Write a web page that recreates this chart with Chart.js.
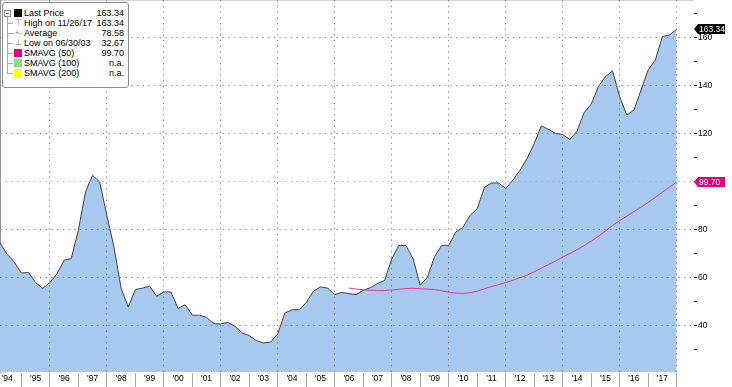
<!DOCTYPE html>
<html>
<head>
<meta charset="utf-8">
<script src="https://cdn.jsdelivr.net/npm/chart.js@4.4.1/dist/chart.umd.min.js"></script>
<style>
  body { margin: 0; background: #fff; }
  #wrap { position: relative; width: 732px; height: 387px; }
  #legend {
    position: absolute; left: 2px; top: 2px; width: 125px; height: 84px;
    border: 1px solid #8c8c8c; border-radius: 3px; background: #fff;
    font: 9px "Liberation Sans", Arial, sans-serif; color: #000;
  }
  .row { position: absolute; left: 0; width: 125px; height: 10px; line-height: 10px; }
  .name { position: absolute; left: 21px; top: 0; white-space: nowrap; }
  .val { position: absolute; right: 4px; top: 0; }
  .sq { position: absolute; left: 11px; top: 1px; width: 8px; height: 8px; }
  .sym { position: absolute; left: 12px; top: 0; color: #777; font-size: 8px; }
  .br { position: absolute; left: 4px; top: 5px; width: 6px; border-top: 1px solid #aaa; }
  #tree { position: absolute; left: 4px; top: 12px; height: 59px; border-left: 1px solid #aaa; }
  #minus { position: absolute; left: 1px; top: 7px; width: 5px; height: 5px; border: 1px solid #888; background: #fff; }
  #minus:after { content: ""; position: absolute; left: 1px; top: 2px; width: 3px; border-top: 1px solid #555; }
</style>
</head>
<body>
<div id="wrap">
  <canvas id="chart" width="732" height="387"></canvas>
  <div id="legend">
    <div id="tree"></div>
    <div class="row" style="top:5px"><div class="sq" style="background:#000"></div><span class="name">Last Price</span><span class="val">163.34</span></div>
    <div class="row" style="top:15px"><div class="br"></div><span class="sym">&#x22A4;</span><span class="name">High on 11/26/17</span><span class="val">163.34</span></div>
    <div class="row" style="top:25px"><div class="br"></div><span class="sym" style="left:9px">-+-</span><span class="name">Average</span><span class="val">78.58</span></div>
    <div class="row" style="top:35px"><div class="br"></div><span class="sym">&#x22A5;</span><span class="name">Low on 06/30/03</span><span class="val">32.67</span></div>
    <div class="row" style="top:45px"><div class="br"></div><div class="sq" style="background:#e5007d"></div><span class="name">SMAVG (50)</span><span class="val">99.70</span></div>
    <div class="row" style="top:55px"><div class="br"></div><div class="sq" style="background:#86e086"></div><span class="name">SMAVG (100)</span><span class="val">n.a.</span></div>
    <div class="row" style="top:65px"><div class="br"></div><div class="sq" style="background:#ffff00"></div><span class="name">SMAVG (200)</span><span class="val">n.a.</span></div>
    <div id="minus"></div>
  </div>
</div>
<script>
// quarterly closes, first quarter ends 03/31/94
const firstQuarter = 1994.25;
const price = [
  74.3, 69.6, 66.4, 61.8, 62.0, 57.8, 55.4, 57.8, 61.5, 67.1,
  67.8, 79.6, 95.5, 102.5, 99.7, 85.8, 72.6, 55.5, 47.6, 54.9,
  55.5, 56.3, 52.1, 53.9, 53.9, 47.0, 48.6, 44.2, 44.2, 43.3,
  40.7, 40.6, 41.2, 39.6, 36.8, 35.7, 33.6, 32.67, 33.0, 36.5,
  45.1, 46.5, 46.5, 49.5, 54.2, 56.0, 55.5, 52.8, 53.7, 53.2,
  52.8, 54.6, 55.7, 57.4, 58.7, 67.7, 73.3, 73.3, 67.7, 56.7,
  60.0, 68.5, 73.3, 73.3, 78.9, 80.8, 85.8, 88.6, 97.4, 99.3,
  99.3, 97.0, 100.4, 104.6, 109.5, 115.7, 123.1, 121.7, 119.9, 119.5,
  117.4, 120.8, 128.6, 132.1, 139.4, 143.6, 146.0, 135.3, 127.6, 129.7,
  138.0, 146.4, 150.5, 160.3, 161.0, 163.34
];
// SMAVG(50) starts at quarter index 49
const smaStart = 49;
const sma50 = [
  55.5, 55.1, 54.8, 54.6, 54.5, 54.5, 54.7, 55.0, 55.3, 55.4,
  55.2, 55.1, 54.9, 54.4, 53.8, 53.4, 53.3, 53.6, 54.2, 55.2,
  56.1, 57.0, 57.8, 58.8, 59.8, 60.9, 62.3, 63.8, 65.3, 66.8,
  68.4, 69.9, 71.5, 73.2, 75.1, 77.1, 79.3, 81.6, 83.6, 85.5,
  87.4, 89.2, 91.2, 93.3, 95.5, 97.6, 99.7
];
const years = [1994, 1995, 1996, 1997, 1998, 1999, 2000, 2001, 2002, 2003, 2004, 2005,
  2006, 2007, 2008, 2009, 2010, 2011, 2012, 2013, 2014, 2015, 2016, 2017];
const yearLabels = ["'94", "'95", "'96", "'97", "'98", "'99", "'00", "'01", "'02", "'03", "'04", "'05",
  "'06", "'07", "'08", "'09", "'10", "'11", "'12", "'13", "'14", "'15", "'16", "'17"];
const yTicks = [30, 40, 50, 60, 70, 80, 90, 100, 110, 120, 130, 140, 150, 160, 170];
const lastPrice = 163.34;
const lastSma = 99.70;

const FONT = { family: "'Liberation Sans', Arial, sans-serif", size: 8.5 };
const GRID = 'rgba(110,110,110,0.75)';

const priceData = price.map((v, i) => ({ x: firstQuarter + i * 0.25, y: v }));
const smaData = sma50.map((v, i) => ({ x: firstQuarter + (smaStart + i) * 0.25, y: v }));

// value tags on the right axis
const tagPlugin = {
  id: 'tags',
  afterDraw(chart) {
    const ctx = chart.ctx;
    const yScale = chart.scales.y;
    const x = chart.chartArea.right + 1;
    const drawTag = (val, bg) => {
      const y = Math.round(yScale.getPixelForValue(val));
      ctx.save();
      ctx.fillStyle = bg;
      ctx.beginPath();
      ctx.moveTo(x, y);
      ctx.lineTo(x + 4, y - 5);
      ctx.lineTo(x + 31, y - 5);
      ctx.lineTo(x + 31, y + 5);
      ctx.lineTo(x + 4, y + 5);
      ctx.closePath();
      ctx.fill();
      ctx.fillStyle = '#fff';
      ctx.font = "8.5px 'Liberation Sans', Arial, sans-serif";
      ctx.textBaseline = 'middle';
      ctx.fillText(val.toFixed(2), x + 5, y + 0.5);
      ctx.restore();
    };
    drawTag(lastSma, '#e5007d');
    drawTag(lastPrice, '#000');
  }
};

new Chart(document.getElementById('chart'), {
  type: 'line',
  data: {
    datasets: [
      {
        data: priceData,
        borderColor: '#404040',
        borderWidth: 1,
        backgroundColor: '#a7c9ef',
        fill: 'start',
        pointRadius: 0,
        tension: 0,
        order: 2
      },
      {
        data: smaData,
        borderColor: '#e23a9a',
        borderWidth: 1,
        fill: false,
        pointRadius: 0,
        tension: 0,
        order: 1
      }
    ]
  },
  options: {
    responsive: false,
    animation: false,
    devicePixelRatio: 1,
    layout: { padding: 0 },
    plugins: { legend: { display: false }, tooltip: { enabled: false } },
    scales: {
      x: {
        type: 'linear',
        min: 1994.25,
        max: 2018.574,
        afterBuildTicks(scale) {
          const t = [];
          years.forEach((yr) => {
            if (yr > years[0]) t.push({ value: yr });
            t.push({ value: yr + 0.5 });
          });
          t.push({ value: years[years.length - 1] + 1 });
          scale.ticks = t;
        },
        afterFit(scale) {
          scale.height = 15;
          scale.paddingLeft = 0;
          scale.paddingRight = 0;
        },
        ticks: {
          autoSkip: false,
          maxRotation: 0,
          padding: -13,
          color: '#000',
          font: FONT,
          callback(value) {
            if (Number.isInteger(value)) return '';
            return yearLabels[years.indexOf(Math.floor(value))];
          }
        },
        grid: {
          z: 1,
          tickLength: 15,
          lineWidth: 1,
          color(ctx) {
            const v = ctx.tick && ctx.tick.value;
            return Number.isInteger(v) && v % 2 === 0 ? GRID : 'rgba(0,0,0,0)';
          },
          tickColor(ctx) {
            const v = ctx.tick && ctx.tick.value;
            return Number.isInteger(v) ? '#a8a8a8' : 'rgba(0,0,0,0)';
          }
        },
        border: { display: true, color: '#a8a8a8', width: 1, dash: [1.5, 4.2] }
      },
      y: {
        position: 'right',
        min: 20.54,
        max: 175.54,
        afterBuildTicks(scale) {
          scale.ticks = yTicks.map((v) => ({ value: v }));
        },
        afterFit(scale) {
          scale.width = 39;
          scale.paddingTop = 0;
          scale.paddingBottom = 0;
        },
        ticks: {
          padding: 1,
          color: '#000',
          font: FONT,
          callback(value) {
            return value % 20 === 0 ? String(value) : '';
          }
        },
        grid: {
          z: 1,
          tickLength: 4,
          tickColor: '#000',
          color(ctx) {
            const v = ctx.tick && ctx.tick.value;
            if (v === 100) return '#8fcf8f';
            return v % 20 === 0 ? GRID : 'rgba(0,0,0,0)';
          }
        },
        border: { display: true, color: '#333', width: 1, dash: [1.5, 4.2] }
      }
    }
  },
  plugins: [tagPlugin]
});
</script>
</body>
</html>
